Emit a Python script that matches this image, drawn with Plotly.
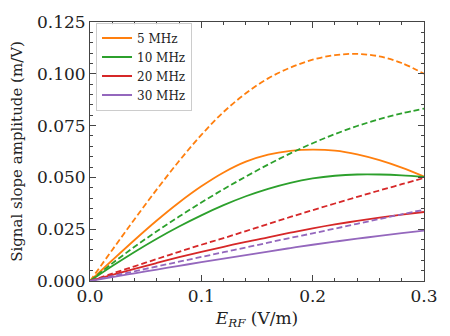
import plotly.graph_objects as go

# Field amplitude grid (V/m)
e_rf = [0.00, 0.02, 0.04, 0.06, 0.08, 0.10, 0.12, 0.14, 0.16, 0.18,
        0.20, 0.22, 0.24, 0.26, 0.28, 0.30]

# Solid curves
slope_5mhz = [0.0, 0.0100, 0.0198, 0.0292, 0.0379, 0.0457, 0.0524, 0.0576, 0.0610, 0.0628,
              0.0634, 0.0629, 0.0611, 0.0583, 0.0547, 0.0504]
slope_10mhz = [0.0, 0.0072, 0.0140, 0.0204, 0.0263, 0.0317, 0.0366, 0.0409, 0.0445, 0.0474,
               0.0495, 0.0508, 0.0514, 0.0514, 0.0510, 0.0502]
slope_20mhz = [0.0, 0.0030, 0.0059, 0.0087, 0.0115, 0.0141, 0.0165, 0.0189, 0.0211, 0.0233,
               0.0254, 0.0273, 0.0290, 0.0306, 0.0320, 0.0333]
slope_30mhz = [0.0, 0.0019, 0.0037, 0.0055, 0.0073, 0.0091, 0.0108, 0.0125, 0.0142, 0.0159,
               0.0175, 0.0190, 0.0204, 0.0218, 0.0231, 0.0243]

# Dashed curves
slope_5mhz_d = [0.0, 0.0150, 0.0298, 0.0442, 0.0579, 0.0705, 0.0816, 0.0906, 0.0978, 0.1030,
                0.1068, 0.1090, 0.1096, 0.1084, 0.1052, 0.1000]
slope_10mhz_d = [0.0, 0.0085, 0.0165, 0.0240, 0.0311, 0.0379, 0.0443, 0.0504, 0.0562, 0.0616,
                 0.0665, 0.0709, 0.0748, 0.0781, 0.0809, 0.0832]
slope_20mhz_d = [0.0, 0.0036, 0.0071, 0.0106, 0.0141, 0.0175, 0.0207, 0.0241, 0.0275, 0.0309,
                 0.0342, 0.0374, 0.0406, 0.0437, 0.0467, 0.0497]
slope_30mhz_d = [0.0, 0.0024, 0.0047, 0.0070, 0.0093, 0.0116, 0.0139, 0.0162, 0.0185, 0.0208,
                 0.0230, 0.0253, 0.0276, 0.0299, 0.0322, 0.0344]

labels = ["5 MHz", "10 MHz", "20 MHz", "30 MHz"]
colors = ["#ff7f0e", "#2ca02c", "#d62728", "#9467bd"]
solid = [slope_5mhz, slope_10mhz, slope_20mhz, slope_30mhz]
dashed = [slope_5mhz_d, slope_10mhz_d, slope_20mhz_d, slope_30mhz_d]

fig = go.Figure()
for name, col, ys in zip(labels, colors, solid):
    fig.add_trace(go.Scatter(x=e_rf, y=ys, mode="lines", name=name,
                             line=dict(color=col, width=1.8, shape="spline", smoothing=1.0)))
for name, col, ys in zip(labels, colors, dashed):
    fig.add_trace(go.Scatter(x=e_rf, y=ys, mode="lines", name=name, showlegend=False,
                             line=dict(color=col, width=1.8, dash="6px,3px",
                                       shape="spline", smoothing=1.0)))

axis_col = "#444444"
font_fam = "DejaVu Serif"

fig.update_layout(
    width=450, height=336,
    margin=dict(l=90, r=23, t=15, b=54),
    plot_bgcolor="white", paper_bgcolor="white",
    font=dict(family=font_fam, size=17, color="#222222"),
    showlegend=True,
    legend=dict(x=0.018, y=0.998, xanchor="left", yanchor="top",
                bgcolor="rgba(255,255,255,0.9)", bordercolor="#cccccc", borderwidth=1,
                font=dict(family=font_fam, size=12, color="#222222"),
                tracegroupgap=0, itemwidth=30),
    xaxis=dict(range=[0, 0.3], tickvals=[0.0, 0.1, 0.2, 0.3], ticktext=["0.0", "0.1", "0.2", "0.3"],
               ticks="inside", ticklen=6, tickcolor=axis_col, showline=True, linecolor=axis_col,
               linewidth=1, mirror="allticks", showgrid=False, zeroline=False,
               minor=dict(dtick=0.02, tick0=0, ticks="inside", ticklen=3, tickcolor=axis_col, showgrid=False),
               title=dict(text="<i>E</i><sub><i>RF</i></sub> (V/m)", standoff=6,
                          font=dict(family=font_fam, size=17))),
    yaxis=dict(range=[0, 0.125], dtick=0.025, tick0=0, tickformat=".3f",
               ticks="inside", ticklen=6, tickcolor=axis_col, showline=True, linecolor=axis_col,
               linewidth=1, mirror="allticks", showgrid=False, zeroline=False,
               minor=dict(dtick=0.005, tick0=0, ticks="inside", ticklen=3, tickcolor=axis_col, showgrid=False),
               title=dict(text="Signal slope amplitude (m/V)", standoff=10,
                          font=dict(family=font_fam, size=15))),
)

fig.write_html("out.html")
